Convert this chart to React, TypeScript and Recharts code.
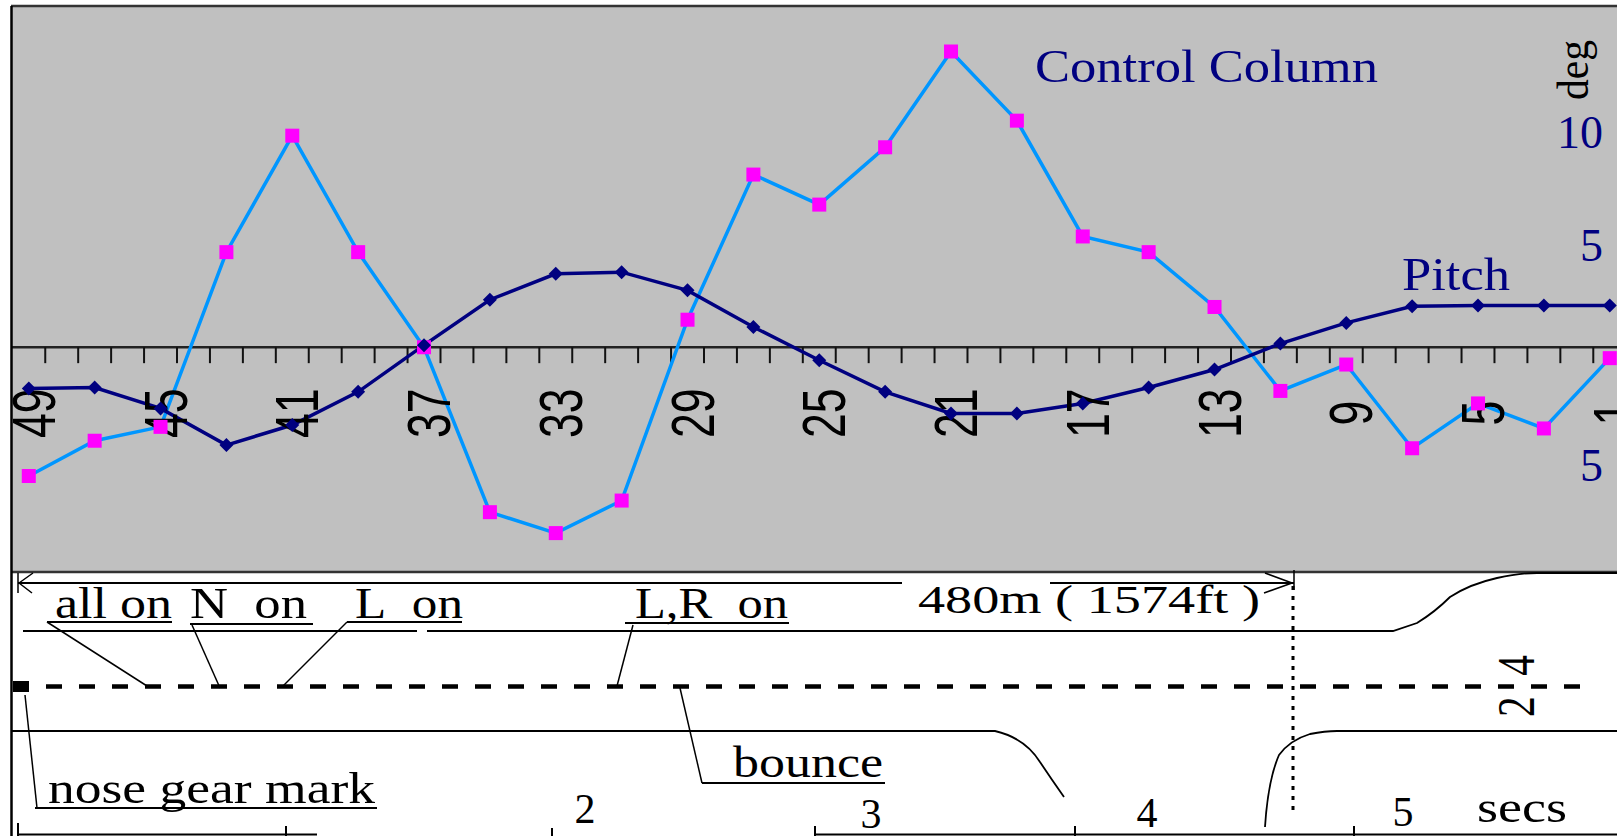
import React from "react";
import {
  LineChart,
  Line,
  XAxis,
  YAxis,
  CartesianGrid,
  ReferenceLine,
  ReferenceDot,
} from "recharts";

// countdown values on the zero line (every other one is labelled)
const counts = [49, 47, 45, 43, 41, 39, 37, 35, 33, 31, 29, 27, 25, 23, 21, 19, 17, 15, 13, 11, 9, 7, 5, 3, 1];
const controlColumn = [
  -5.66, -4.11, -3.5, 4.18, 9.3, 4.18, 0, -7.25, -8.17, -6.74, 1.21, 7.59, 6.27,
  8.79, 13.0, 9.96, 4.87, 4.18, 1.77, -1.92, -0.76, -4.44, -2.47, -3.57, -0.48,
];
const pitch = [
  -1.81, -1.77, -2.69, -4.3, -3.42, -1.96, 0.09, 2.09, 3.23, 3.3, 2.5, 0.89, -0.57,
  -1.96, -2.91, -2.91, -2.47, -1.77, -0.98, 0.16, 1.07, 1.8, 1.84, 1.84, 1.84,
];
const degTicks = [10, 5, -5];
const timeLabels = ["2", "3", "4", "5"];

const data = counts.map((c, i) => ({ i, count: c, cc: controlColumn[i], pitch: pitch[i] }));
const minorTicks = Array.from({ length: 48 }, (_, k) => 0.25 + k * 0.5);

const W = 1617;
const H = 836;
const X_MIN = -0.27;
const X_MAX = 24.11;
const NAVY = "#000080";
const SERIF = "'Liberation Serif', 'Times New Roman', serif";
const SANS = "'Liberation Sans', Arial, sans-serif";

const Square = (props: any) => {
  const { cx, cy } = props;
  if (cx == null || cy == null) return null;
  return <rect x={cx - 7} y={cy - 7} width={14} height={14} fill="#ff00ff" />;
};

const Diamond = (props: any) => {
  const { cx, cy } = props;
  if (cx == null || cy == null) return null;
  return (
    <polygon
      points={`${cx},${cy - 7} ${cx + 7},${cy} ${cx},${cy + 7} ${cx - 7},${cy}`}
      fill={NAVY}
    />
  );
};

const DegLabel = ({ cx, cy, value }: any) => (
  <text
    x={cx - 14}
    y={cy + (value < 0 ? 20 : 28)}
    textAnchor="end"
    fontFamily={SERIF}
    fontSize={46}
    fill={NAVY}
  >
    {Math.abs(value)}
  </text>
);

const RotatedCount = ({ cx, cy, text }: any) => (
  <text
    transform={`translate(${cx + 4},${cy}) rotate(-90) scale(0.72,1)`}
    y={22}
    textAnchor="middle"
    fontFamily={SANS}
    fontSize={62}
    fill="#000"
  >
    {text}
  </text>
);

const Diagram = () => {
  const txt = { fontFamily: SERIF, fill: "#000" } as const;
  const ln = { stroke: "#000", fill: "none" } as const;
  return (
    <svg
      width={W}
      height={H}
      style={{ position: "absolute", left: 0, top: 0, pointerEvents: "none" }}
    >
      {/* left frame line */}
      <line x1={11.5} y1={6} x2={11.5} y2={H} {...ln} strokeWidth={2.5} />

      {/* 480 m measurement line */}
      <line x1={18} y1={583} x2={902} y2={583} {...ln} strokeWidth={2} />
      <line x1={1050} y1={583} x2={1294} y2={583} {...ln} strokeWidth={2} />
      <path d="M18,573 L18,593 M19,583 L33,573 M19,583 L32,593" {...ln} strokeWidth={1.5} />
      <path d="M1294,570 L1294,590 M1265,573 L1292,583 M1264,593 L1292,583" {...ln} strokeWidth={1.5} />
      <line x1={1293} y1={586} x2={1293} y2={815} {...ln} strokeWidth={3} strokeDasharray="4 6" />

      {/* runway edges and centre line */}
      <line x1={23} y1={631} x2={417} y2={631} {...ln} strokeWidth={2} />
      <path
        d="M427,631 L1393,631 L1417,623 Q1435,612 1450,597 Q1470,584 1497,578 Q1520,573 1537,573 L1617,573"
        {...ln}
        strokeWidth={1.8}
      />
      <rect x={13} y={681} width={16} height={11} fill="#000" />
      <line x1={46} y1={686.5} x2={1580} y2={686.5} {...ln} strokeWidth={4.5} strokeDasharray="16 17" />
      <path d="M11,731 L995,731 Q1025,738 1040,762 Q1052,780 1064,797" {...ln} strokeWidth={1.8} />
      <path
        d="M1265,827 Q1268,780 1279,755 Q1290,740 1310,734 Q1325,731 1337,731 L1617,731"
        {...ln}
        strokeWidth={1.8}
      />

      {/* annotations */}
      <text x={55} y={618} fontSize={44} textLength={117} lengthAdjust="spacingAndGlyphs" {...txt}>all on</text>
      <line x1={47} y1={622} x2={172} y2={622} {...ln} strokeWidth={2} />
      <line x1={47} y1={622} x2={147} y2={686} {...ln} strokeWidth={1.5} />

      <text x={190} y={618} fontSize={44} textLength={117} lengthAdjust="spacingAndGlyphs" {...txt}>{"N\u00a0\u00a0on"}</text>
      <line x1={190} y1={624} x2={313} y2={624} {...ln} strokeWidth={2} />
      <line x1={192} y1={625} x2={220} y2={688} {...ln} strokeWidth={1.5} />

      <text x={355} y={618} fontSize={44} textLength={108} lengthAdjust="spacingAndGlyphs" {...txt}>{"L\u00a0\u00a0on"}</text>
      <line x1={347} y1={622} x2={462} y2={622} {...ln} strokeWidth={2} />
      <line x1={347} y1={622} x2={283} y2={686} {...ln} strokeWidth={1.5} />

      <text x={635} y={618} fontSize={44} textLength={153} lengthAdjust="spacingAndGlyphs" {...txt}>{"L,R\u00a0\u00a0on"}</text>
      <line x1={625} y1={623} x2={789} y2={623} {...ln} strokeWidth={2} />
      <line x1={633} y1={625} x2={617} y2={686} {...ln} strokeWidth={1.5} />

      <text x={918} y={613} fontSize={40} textLength={342} lengthAdjust="spacingAndGlyphs" {...txt}>480m ( 1574ft )</text>

      <text x={733} y={777} fontSize={44} textLength={150} lengthAdjust="spacingAndGlyphs" {...txt}>bounce</text>
      <line x1={702} y1={783} x2={885} y2={783} {...ln} strokeWidth={2} />
      <line x1={680} y1={688} x2={702} y2={783} {...ln} strokeWidth={1.5} />

      <text x={48} y={803} fontSize={45} textLength={327} lengthAdjust="spacingAndGlyphs" {...txt}>nose gear mark</text>
      <line x1={35} y1={808} x2={377} y2={808} {...ln} strokeWidth={2} />
      <line x1={25} y1={695} x2={37} y2={808} {...ln} strokeWidth={1.5} />

      <text
        transform="translate(1515,686) rotate(-90)"
        y={18.6}
        textAnchor="middle"
        fontSize={52}
        textLength={62}
        lengthAdjust="spacingAndGlyphs"
        {...txt}
      >
        {"2\u00a0\u00a04"}
      </text>

      {/* time scale */}
      <line x1={18} y1={834.5} x2={317} y2={834.5} {...ln} strokeWidth={2} />
      <line x1={815} y1={834.5} x2={1617} y2={834.5} {...ln} strokeWidth={2} />
      <path
        d="M18,823 L18,836 M286,826 L286,836 M552,828 L552,836 M815,826 L815,836 M1075,826 L1075,836 M1354,826 L1354,836"
        {...ln}
        strokeWidth={2}
      />
      {timeLabels.map((t, k) => (
        <text key={t} x={[585, 871, 1147, 1403][k]} y={[823, 828, 827, 826][k]} textAnchor="middle" fontSize={42} {...txt}>
          {t}
        </text>
      ))}
      <text x={1477} y={822} fontSize={44} textLength={90} lengthAdjust="spacingAndGlyphs" {...txt}>secs</text>

      {/* chart captions */}
      <text x={1035} y={82} fontSize={46} textLength={343} lengthAdjust="spacingAndGlyphs" fontFamily={SERIF} fill={NAVY}>
        Control Column
      </text>
      <text x={1402} y={290} fontSize={46} textLength={108} lengthAdjust="spacingAndGlyphs" fontFamily={SERIF} fill={NAVY}>
        Pitch
      </text>
      <text
        transform="translate(1578,70) rotate(-90)"
        y={10}
        textAnchor="middle"
        fontSize={44}
        textLength={60}
        lengthAdjust="spacingAndGlyphs"
        {...txt}
      >
        deg
      </text>
    </svg>
  );
};

export default function App() {
  return (
    <div style={{ position: "absolute", left: 0, top: 0, width: W, height: H, background: "#fff" }}>
      <LineChart width={W} height={H} data={data} margin={{ top: 6, right: 0, bottom: 264, left: 11 }}>
        <CartesianGrid vertical={false} fill="#c0c0c0" stroke="#333" strokeWidth={2.5} />
        <XAxis type="number" dataKey="i" domain={[X_MIN, X_MAX]} allowDataOverflow hide />
        <YAxis
          orientation="right"
          mirror
          domain={[-9.88, 15]}
          ticks={degTicks}
          interval={0}
          allowDataOverflow
          axisLine={false}
          tickLine={false}
          tick={false}
        />
        <ReferenceLine y={0} stroke="#222" strokeWidth={2.5} />
        {minorTicks.map((t) => (
          <ReferenceLine
            key={t}
            segment={[
              { x: t, y: 0 },
              { x: t, y: -0.7 },
            ]}
            stroke="#111"
            strokeWidth={2}
          />
        ))}
        {degTicks.map((v) => (
          <ReferenceDot
            key={`deg${v}`}
            x={X_MAX}
            y={v}
            r={0}
            ifOverflow="visible"
            shape={(p: any) => <DegLabel cx={p.cx} cy={p.cy} value={v} />}
          />
        ))}
        {data
          .filter((d) => d.i % 2 === 0)
          .map((d) => (
            <ReferenceDot
              key={d.i}
              x={d.i}
              y={-2.9}
              r={0}
              ifOverflow="visible"
              shape={(p: any) => <RotatedCount cx={p.cx} cy={p.cy} text={String(d.count)} />}
            />
          ))}
        <Line dataKey="cc" stroke="none" dot={<Square />} activeDot={false} isAnimationActive={false} />
        <Line dataKey="cc" stroke="#0096ff" strokeWidth={3.5} dot={false} activeDot={false} isAnimationActive={false} />
        <Line dataKey="pitch" stroke={NAVY} strokeWidth={3.5} dot={<Diamond />} activeDot={false} isAnimationActive={false} />
      </LineChart>
      <Diagram />
    </div>
  );
}
